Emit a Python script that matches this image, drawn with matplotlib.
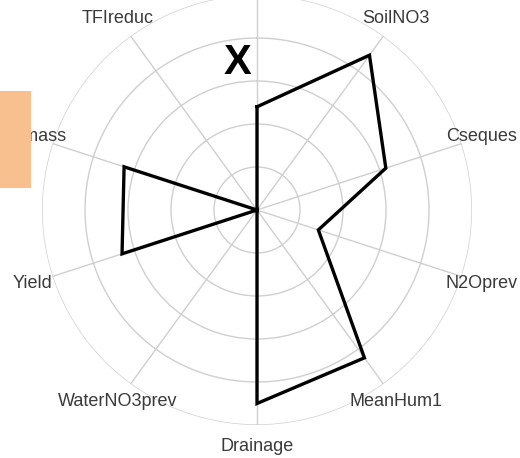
import numpy as np
from matplotlib import pyplot as plt
from matplotlib.patches import Rectangle

# spokes, clockwise from the top; the top one is cut off by the frame
categories = ["", "SoilNO3", "Cseques", "N2Oprev", "MeanHum1", "Drainage",
              "WaterNO3prev", "Yield", "Biomass", "TFIreduc"]
values = [0.48, 0.89, 0.63, 0.30, 0.85, 0.90, 0.0, 0.66, 0.65, 0.0]
rings = [0.2, 0.4, 0.6, 0.8, 1.0]

plt.rcParams['font.family'] = ['Liberation Sans', 'DejaVu Sans']

W, H = 520, 458
fig = plt.figure(figsize=(W / 100, H / 100), dpi=100)
fig.patch.set_facecolor("white")

# centre (257, 210) px from top-left, outer radius 215 px
cx, cy, R = 257, 210, 215
ax = fig.add_axes([(cx - R) / W, (H - cy - R) / H, 2 * R / W, 2 * R / H],
                  projection="polar")
ax.set_theta_zero_location("N")
ax.set_theta_direction(-1)
ax.set_ylim(0, 1)

n = len(categories)
angles = np.arange(n) * 2 * np.pi / n

grid = "#cfcfcf"
ax.set_xticks(angles)
ax.set_xticklabels([])
ax.set_yticks(rings)
ax.set_yticklabels([])
ax.tick_params(length=0)
ax.grid(color=grid, linewidth=1.0)
ax.spines["polar"].set_visible(False)
ax.set_facecolor("none")

for a, lab in zip(angles, categories):
    ax.text(a, 1.1, lab, ha="center", va="center", fontsize=13,
            color="#3a3a3a", clip_on=False)

closed_a = np.append(angles, angles[0])
closed_v = np.append(values, values[0])
ax.plot(closed_a, closed_v, color="black", linewidth=2.4,
        solid_joinstyle="miter", clip_on=False)

fig.text(238 / W, 1 - 63 / H, "X", ha="center", va="center",
         fontsize=30, fontweight="bold", color="black")

fig.patches.append(Rectangle((0, 1 - 188 / H), 31 / W, 97 / H,
                             transform=fig.transFigure, facecolor="#f9c08f",
                             edgecolor="none", zorder=10))

fig.savefig("out.png", dpi=100)
